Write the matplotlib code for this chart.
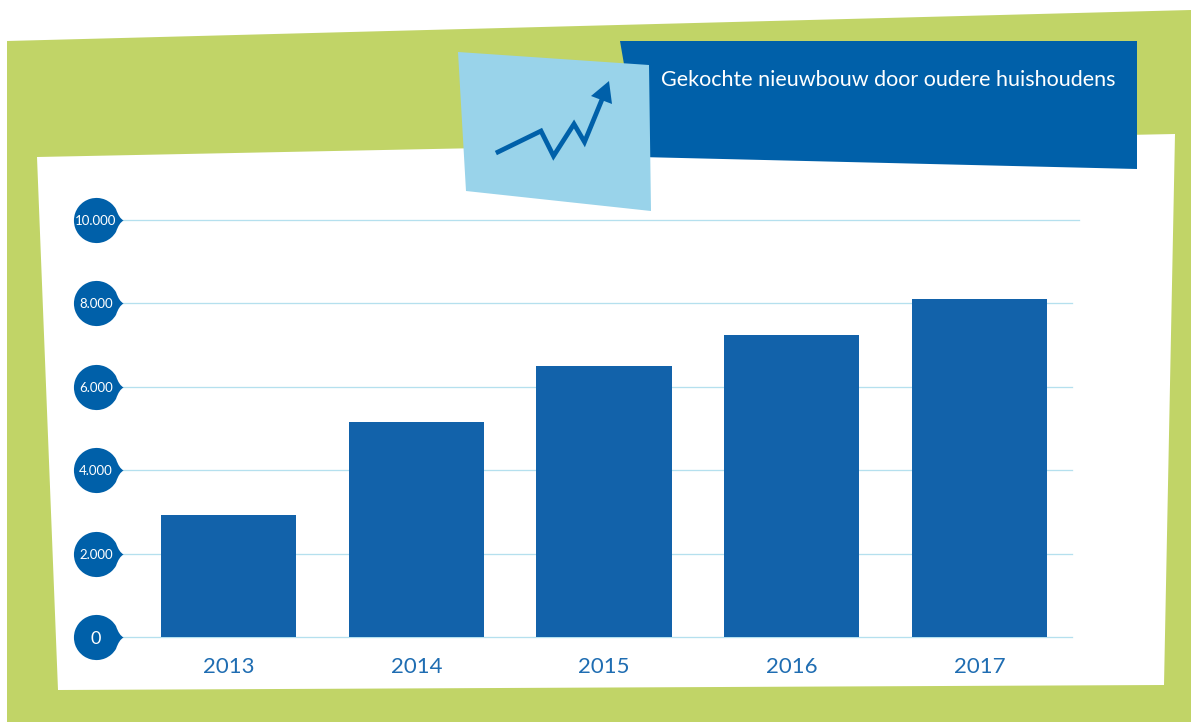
import matplotlib
matplotlib.use("Agg")
import numpy as np
import matplotlib.pyplot as plt
from matplotlib.patches import Polygon
from matplotlib.path import Path

# data
years = ["2013", "2014", "2015", "2016", "2017"]
aantal = [2930, 5160, 6500, 7240, 8105]
y_ticks = [0, 2000, 4000, 6000, 8000, 10000]
y_labels = ["0", "2.000", "4.000", "6.000", "8.000", "10.000"]
titel = "Gekochte nieuwbouw door oudere huishoudens"

GREEN = "#C1D467"
DARK = "#0060A9"
LIGHT = "#99D3EA"
BAR = "#1262AA"
GRID = "#B5E0EE"
LABEL = "#1F6DB2"

W, H = 1191, 722
plt.rcParams["font.family"] = ["Lato", "DejaVu Sans"]
fig = plt.figure(figsize=(W / 100, H / 100), dpi=100, facecolor="white")

# background shapes, in pixels of the picture
bg = fig.add_axes([0, 0, 1, 1])
bg.set_xlim(0, W)
bg.set_ylim(H, 0)
bg.axis("off")
bg.add_patch(Polygon([(7, 41), (1191, 10), (1191, 722), (7, 722)], fc=GREEN, ec="none"))
bg.add_patch(Polygon([(37, 157), (1175, 134), (1164, 685), (58, 690)], fc="white", ec="none"))
bg.add_patch(Polygon([(620, 41), (1137, 41), (1137, 169), (640, 157)], fc=DARK, ec="none"))
bg.add_patch(Polygon([(458, 52), (649, 65), (651, 211), (466, 191)], fc=LIGHT, ec="none"))

# little arrow icon
bg.plot([498, 541, 553.5, 574, 584.5, 603], [152, 131, 156, 124, 142, 97],
        color=DARK, lw=3.4, solid_joinstyle="miter")
bg.add_patch(Polygon([(609, 81), (591, 96), (612, 104)], fc=DARK, ec="none"))
bg.text(661, 80, titel, color="white", fontsize=15.5, va="center", ha="left")

# the chart itself: x 122..1079, y 637 (0) .. 220 (10000)
ax = fig.add_axes([122 / W, 1 - 637 / H, (1079 - 122) / W, (637 - 220) / H])
ax.patch.set_alpha(0)
x = list(range(len(years)))
ax.set_xlim((122 - 228.5) / 187.75, (1079 - 228.5) / 187.75)
ax.set_ylim(0, 10000)
for s in ax.spines.values():
    s.set_visible(False)

ax.bar(x, aantal, width=0.72, color=BAR, zorder=1)

# the top line runs a bit further than the others
line_end = (1071.5 - 228.5) / 187.75
for t in y_ticks:
    ax.plot([ax.get_xlim()[0], ax.get_xlim()[1] if t == 10000 else line_end], [t, t],
            color=GRID, lw=0.95, zorder=0.5, clip_on=False)

# round bubble with a curved point, used as marker behind the y labels
arc = Path.arc(30, 330)
verts = np.vstack([arc.vertices, [[1.0, -0.1], [1.2, 0], [1.0, 0.1], [0.866, 0.5], [0.866, 0.5]]])
codes = list(arc.codes) + [Path.CURVE3] * 4 + [Path.CLOSEPOLY]
bubble = Path(verts, codes)

tr = ax.get_yaxis_transform()
bub_x = (96 - 122) / (1079 - 122)
ax.plot([bub_x] * len(y_ticks), y_ticks, linestyle="none", marker=bubble, ms=39, color=DARK,
        mec="none", transform=tr, clip_on=False, zorder=2)

ax.set_axisbelow(False)
ax.set_xticks(x, years)
ax.set_yticks(y_ticks, y_labels)
ax.tick_params(axis="x", length=0, pad=14.5, labelsize=16, labelcolor=LABEL)
ax.tick_params(axis="y", length=0, pad=(122 - 96) * 0.72, labelsize=9.5, labelcolor="white")
for lab in ax.get_yticklabels():
    lab.set_ha("center")
ax.get_yticklabels()[0].set_fontsize(13)

fig.savefig("out.png", dpi=100)
